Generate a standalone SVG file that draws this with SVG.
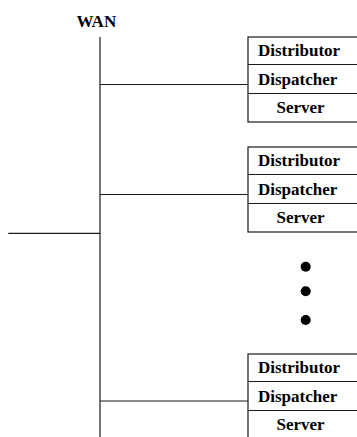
<svg xmlns="http://www.w3.org/2000/svg" width="357" height="437" viewBox="0 0 357 437">
  <style>
    .ln { stroke: #1a1a1a; stroke-width: 1.2; fill: none; }
    .box { stroke: #1a1a1a; stroke-width: 1.2; fill: #ffffff; }
    .lbl { font-family: "Liberation Serif", "Times New Roman", serif; font-weight: bold; font-size: 17px; fill: #000000; }
    .dot { fill: #000000; }
  </style>
  <defs>
    <!-- one host stack: three stacked cells, open at the right edge -->
    <g id="stack">
      <rect class="box" x="0" y="0" width="120" height="85"/>
      <line class="ln" x1="0" y1="27.5" x2="120" y2="27.5"/>
      <line class="ln" x1="0" y1="56.5" x2="120" y2="56.5"/>
      <text class="lbl" x="10" y="19">Distributor</text>
      <text class="lbl" x="10" y="48">Dispatcher</text>
      <text class="lbl" x="28.5" y="75.7">Server</text>
    </g>
  </defs>

  <text id="wan" class="lbl" x="76.5" y="26.7">WAN</text>

  <g id="connectors">
    <line class="ln" x1="100" y1="37" x2="100" y2="437"/>
    <line class="ln" x1="8.3" y1="233.3" x2="100" y2="233.3"/>
    <line class="ln" x1="100" y1="84.5" x2="248" y2="84.5"/>
    <line class="ln" x1="100" y1="194.5" x2="248" y2="194.5"/>
    <line class="ln" x1="100" y1="401" x2="248" y2="401"/>
  </g>

  <g id="host1"><use href="#stack" x="248" y="37"/></g>
  <g id="host2"><use href="#stack" x="248" y="147"/></g>
  <g id="ellipsis">
    <circle class="dot" cx="305.7" cy="266.7" r="5"/>
    <circle class="dot" cx="305.7" cy="291.3" r="5"/>
    <circle class="dot" cx="305.7" cy="320" r="5"/>
  </g>
  <g id="host3"><use href="#stack" x="248" y="354"/></g>
</svg>
